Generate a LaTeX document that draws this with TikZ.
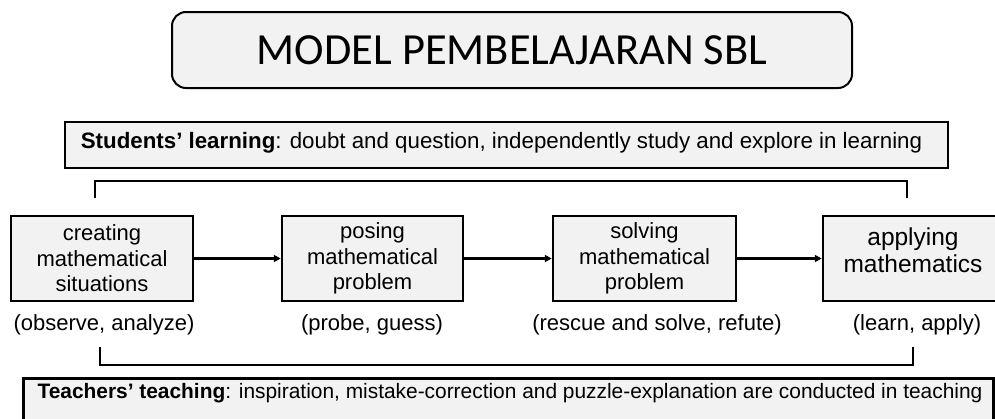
\documentclass[tikz,border=0pt]{standalone}
\usepackage{fontspec}
\setmainfont{Liberation Sans}
\newfontfamily\titlefont{Carlito}
\usetikzlibrary{arrows.meta}
\definecolor{boxfill}{HTML}{F2F2F2}
\begin{document}
\begin{tikzpicture}[x=1pt,y=-1pt,
  stepbox/.style={draw, line width=2.5pt, fill=boxfill, align=center, inner sep=0pt,
    minimum height=85pt, font=\fontsize{22}{25.5}\selectfont},
  bandbox/.style={draw, line width=2.5pt, fill=boxfill, inner sep=0pt},
  note/.style={font=\fontsize{22}{25}\selectfont, inner sep=0pt},
  flow/.style={line width=2.5pt, -{Triangle[length=7pt,width=7pt]}},
  bracket/.style={line width=2.5pt}
]
\useasboundingbox (0,0) rectangle (995,418);
\clip (0,0) rectangle (995,418);

% title
\node[draw, rounded corners=14pt, line width=2pt, fill=boxfill, minimum width=680pt,
  minimum height=76pt, font=\titlefont\fontsize{44.5}{50}\selectfont] (title) at (512,50)
  {MODEL PEMBELAJARAN SBL};

% students band
\node[bandbox, minimum width=883pt, minimum height=46pt] (stud) at (506.5,145) {};
\node[font=\fontsize{22.3}{25}\selectfont, inner sep=0pt] (studtext) at (501.5,143)
  {\textbf{Students’ learning}: doubt and question, independently study and explore in learning};

% top bracket
\coordinate (tl) at (95,198);
\coordinate (tr) at (907,198);
\draw[bracket] (tl) -- (95,181) -- (907,181) -- (tr);

% steps
\node[stepbox, minimum width=182pt] (s1) at (102,258.5) {creating\\mathematical\\situations};
\node[stepbox, minimum width=181pt] (s2) at (372.5,258.5) {posing\\mathematical\\problem};
\node[stepbox, minimum width=183pt] (s3) at (644.5,258.5) {solving\\mathematical\\problem};
\node[stepbox, minimum width=177pt] (s4) at (911.5,258.5) {};
\node[align=center, inner sep=0pt, font=\fontsize{24.5}{26.5}\selectfont] (s4text) at (913,250)
  {applying\\mathematics};

\draw[flow] (s1.east) -- (s2.west);
\draw[flow] (s2.east) -- (s3.west);
\draw[flow] (s3.east) -- (s4.west);

% notes
\node[note] (n1) at (104,325) {(observe, analyze)};
\node[note] (n2) at (372,325) {(probe, guess)};
\node[note] (n3) at (657,325) {(rescue and solve, refute)};
\node[note] (n4) at (917,325) {(learn, apply)};

% bottom bracket
\coordinate (bl) at (100,347);
\coordinate (br) at (913,347);
\draw[bracket] (bl) -- (100,365) -- (913,365) -- (br);

% teachers band
\node[bandbox, anchor=north west, minimum width=970pt, minimum height=50pt] (teach) at (22,377) {};
\node[font=\fontsize{20.9}{24}\selectfont, inner sep=0pt] (teachtext) at (510,393)
  {\textbf{Teachers’ teaching}: inspiration, mistake-correction and puzzle-explanation are conducted in teaching};
\end{tikzpicture}
\end{document}
